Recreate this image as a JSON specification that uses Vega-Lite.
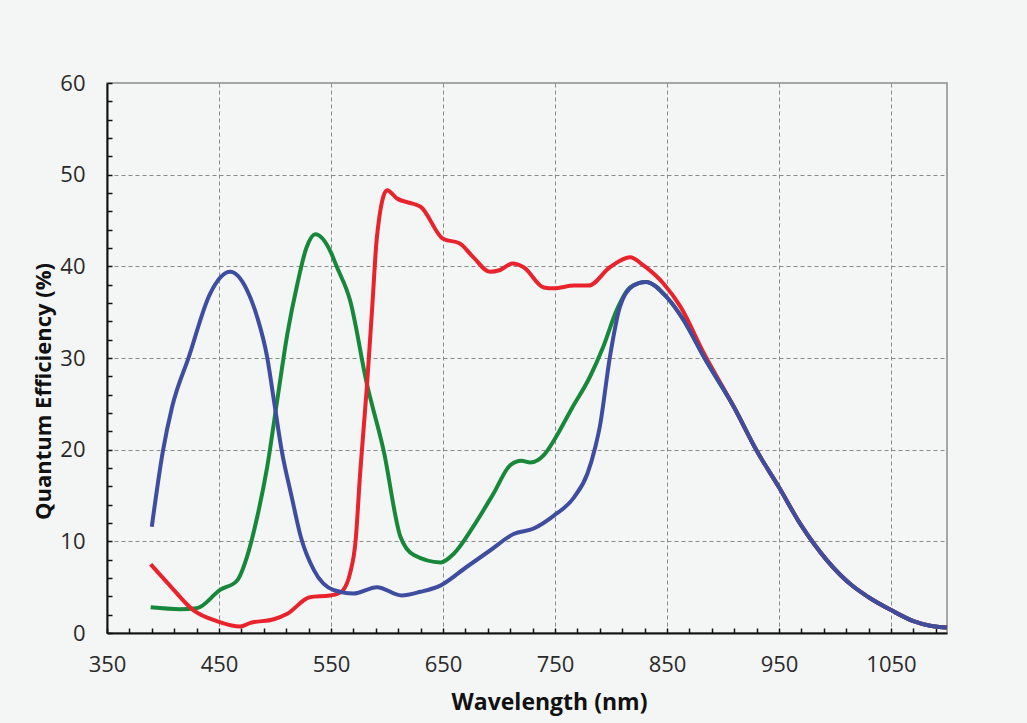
{
  "$schema": "https://vega.github.io/schema/vega-lite/v6.json",
  "width": 840,
  "height": 550,
  "autosize": "none",
  "padding": {"left": 107, "top": 83, "right": 80, "bottom": 90},
  "background": "#f4f6f6",
  "config": {
    "view": {"stroke": "#8c8c8c", "strokeWidth": 1.5, "fill": "#f4f6f6"},
    "font": "Open Sans"
  },
  "data": {
    "values": [
      {"ch": "green", "wl": 389, "qe": 2.8},
      {"ch": "green", "wl": 415, "qe": 2.6},
      {"ch": "green", "wl": 430, "qe": 2.7},
      {"ch": "green", "wl": 451, "qe": 4.7},
      {"ch": "green", "wl": 466, "qe": 5.7},
      {"ch": "green", "wl": 475, "qe": 8.3},
      {"ch": "green", "wl": 484, "qe": 12.6},
      {"ch": "green", "wl": 493, "qe": 18.1},
      {"ch": "green", "wl": 502, "qe": 25.4},
      {"ch": "green", "wl": 511, "qe": 32.6},
      {"ch": "green", "wl": 520, "qe": 38.1},
      {"ch": "green", "wl": 528, "qe": 42.0},
      {"ch": "green", "wl": 536, "qe": 43.5},
      {"ch": "green", "wl": 550, "qe": 41.5},
      {"ch": "green", "wl": 555, "qe": 40.0},
      {"ch": "green", "wl": 567, "qe": 36.3},
      {"ch": "green", "wl": 582, "qe": 27.2},
      {"ch": "green", "wl": 597, "qe": 19.9},
      {"ch": "green", "wl": 612, "qe": 10.5},
      {"ch": "green", "wl": 624, "qe": 8.5},
      {"ch": "green", "wl": 648, "qe": 7.7},
      {"ch": "green", "wl": 660, "qe": 8.7},
      {"ch": "green", "wl": 677, "qe": 11.6},
      {"ch": "green", "wl": 695, "qe": 15.2},
      {"ch": "green", "wl": 710, "qe": 18.3},
      {"ch": "green", "wl": 720, "qe": 18.8},
      {"ch": "green", "wl": 728, "qe": 18.6},
      {"ch": "green", "wl": 740, "qe": 19.4},
      {"ch": "green", "wl": 749, "qe": 21.0},
      {"ch": "green", "wl": 765, "qe": 24.5},
      {"ch": "green", "wl": 781, "qe": 27.9},
      {"ch": "green", "wl": 793, "qe": 31.2},
      {"ch": "green", "wl": 805, "qe": 35.2},
      {"ch": "green", "wl": 817, "qe": 37.7},
      {"ch": "green", "wl": 831, "qe": 38.3},
      {"ch": "green", "wl": 850, "qe": 36.6},
      {"ch": "green", "wl": 865, "qe": 34.1},
      {"ch": "green", "wl": 883, "qe": 30.1},
      {"ch": "green", "wl": 910, "qe": 24.6},
      {"ch": "green", "wl": 930, "qe": 19.9},
      {"ch": "green", "wl": 950, "qe": 15.9},
      {"ch": "green", "wl": 969, "qe": 11.9},
      {"ch": "green", "wl": 993, "qe": 7.9},
      {"ch": "green", "wl": 1015, "qe": 5.2},
      {"ch": "green", "wl": 1030, "qe": 3.9},
      {"ch": "green", "wl": 1050, "qe": 2.5},
      {"ch": "green", "wl": 1070, "qe": 1.3},
      {"ch": "green", "wl": 1085, "qe": 0.8},
      {"ch": "green", "wl": 1100, "qe": 0.6},

      {"ch": "red", "wl": 389, "qe": 7.5},
      {"ch": "red", "wl": 406, "qe": 5.2},
      {"ch": "red", "wl": 427, "qe": 2.5},
      {"ch": "red", "wl": 448, "qe": 1.3},
      {"ch": "red", "wl": 469, "qe": 0.7},
      {"ch": "red", "wl": 478, "qe": 1.1},
      {"ch": "red", "wl": 499, "qe": 1.5},
      {"ch": "red", "wl": 511, "qe": 2.1},
      {"ch": "red", "wl": 531, "qe": 3.9},
      {"ch": "red", "wl": 549, "qe": 4.1},
      {"ch": "red", "wl": 556, "qe": 4.3},
      {"ch": "red", "wl": 561, "qe": 4.7},
      {"ch": "red", "wl": 567, "qe": 6.5},
      {"ch": "red", "wl": 572, "qe": 10.1},
      {"ch": "red", "wl": 576, "qe": 17.4},
      {"ch": "red", "wl": 582, "qe": 26.8},
      {"ch": "red", "wl": 587, "qe": 35.9},
      {"ch": "red", "wl": 591, "qe": 43.2},
      {"ch": "red", "wl": 600, "qe": 48.3},
      {"ch": "red", "wl": 609, "qe": 47.4},
      {"ch": "red", "wl": 624, "qe": 46.8},
      {"ch": "red", "wl": 630, "qe": 46.5},
      {"ch": "red", "wl": 650, "qe": 43.0},
      {"ch": "red", "wl": 665, "qe": 42.5},
      {"ch": "red", "wl": 677, "qe": 41.0},
      {"ch": "red", "wl": 692, "qe": 39.4},
      {"ch": "red", "wl": 701, "qe": 39.6},
      {"ch": "red", "wl": 712, "qe": 40.3},
      {"ch": "red", "wl": 722, "qe": 39.9},
      {"ch": "red", "wl": 740, "qe": 37.7},
      {"ch": "red", "wl": 749, "qe": 37.6},
      {"ch": "red", "wl": 767, "qe": 37.9},
      {"ch": "red", "wl": 780, "qe": 37.9},
      {"ch": "red", "wl": 799, "qe": 39.9},
      {"ch": "red", "wl": 817, "qe": 41.0},
      {"ch": "red", "wl": 829, "qe": 40.1},
      {"ch": "red", "wl": 847, "qe": 38.1},
      {"ch": "red", "wl": 862, "qe": 35.6},
      {"ch": "red", "wl": 883, "qe": 30.5},
      {"ch": "red", "wl": 910, "qe": 24.6},
      {"ch": "red", "wl": 930, "qe": 19.9},
      {"ch": "red", "wl": 950, "qe": 15.9},
      {"ch": "red", "wl": 969, "qe": 11.9},
      {"ch": "red", "wl": 993, "qe": 7.9},
      {"ch": "red", "wl": 1015, "qe": 5.2},
      {"ch": "red", "wl": 1030, "qe": 3.9},
      {"ch": "red", "wl": 1050, "qe": 2.5},
      {"ch": "red", "wl": 1070, "qe": 1.3},
      {"ch": "red", "wl": 1085, "qe": 0.8},
      {"ch": "red", "wl": 1100, "qe": 0.6},

      {"ch": "blue", "wl": 390, "qe": 11.6},
      {"ch": "blue", "wl": 400, "qe": 19.9},
      {"ch": "blue", "wl": 408, "qe": 24.6},
      {"ch": "blue", "wl": 423, "qe": 30.1},
      {"ch": "blue", "wl": 442, "qe": 37.0},
      {"ch": "blue", "wl": 460, "qe": 39.4},
      {"ch": "blue", "wl": 475, "qe": 37.4},
      {"ch": "blue", "wl": 484, "qe": 34.5},
      {"ch": "blue", "wl": 493, "qe": 30.1},
      {"ch": "blue", "wl": 499, "qe": 25.4},
      {"ch": "blue", "wl": 506, "qe": 19.9},
      {"ch": "blue", "wl": 515, "qe": 14.8},
      {"ch": "blue", "wl": 523, "qe": 10.5},
      {"ch": "blue", "wl": 535, "qe": 6.8},
      {"ch": "blue", "wl": 552, "qe": 4.7},
      {"ch": "blue", "wl": 570, "qe": 4.3},
      {"ch": "blue", "wl": 591, "qe": 5.0},
      {"ch": "blue", "wl": 613, "qe": 4.1},
      {"ch": "blue", "wl": 630, "qe": 4.5},
      {"ch": "blue", "wl": 648, "qe": 5.2},
      {"ch": "blue", "wl": 671, "qe": 7.2},
      {"ch": "blue", "wl": 692, "qe": 9.0},
      {"ch": "blue", "wl": 713, "qe": 10.8},
      {"ch": "blue", "wl": 731, "qe": 11.4},
      {"ch": "blue", "wl": 749, "qe": 12.8},
      {"ch": "blue", "wl": 767, "qe": 14.8},
      {"ch": "blue", "wl": 779, "qe": 17.4},
      {"ch": "blue", "wl": 786, "qe": 20.3},
      {"ch": "blue", "wl": 790, "qe": 22.5},
      {"ch": "blue", "wl": 799, "qe": 30.1},
      {"ch": "blue", "wl": 808, "qe": 35.6},
      {"ch": "blue", "wl": 820, "qe": 37.9},
      {"ch": "blue", "wl": 831, "qe": 38.3},
      {"ch": "blue", "wl": 850, "qe": 36.6},
      {"ch": "blue", "wl": 865, "qe": 34.1},
      {"ch": "blue", "wl": 883, "qe": 30.1},
      {"ch": "blue", "wl": 910, "qe": 24.6},
      {"ch": "blue", "wl": 930, "qe": 19.9},
      {"ch": "blue", "wl": 950, "qe": 15.9},
      {"ch": "blue", "wl": 969, "qe": 11.9},
      {"ch": "blue", "wl": 993, "qe": 7.9},
      {"ch": "blue", "wl": 1015, "qe": 5.2},
      {"ch": "blue", "wl": 1030, "qe": 3.9},
      {"ch": "blue", "wl": 1050, "qe": 2.5},
      {"ch": "blue", "wl": 1070, "qe": 1.3},
      {"ch": "blue", "wl": 1085, "qe": 0.8},
      {"ch": "blue", "wl": 1100, "qe": 0.6}
    ]
  },
  "encoding": {
    "x": {
      "field": "wl",
      "type": "quantitative",
      "scale": {"domain": [350, 1100], "nice": false, "zero": false},
      "axis": {
        "title": "Wavelength (nm)",
        "values": [350,370,390,410,430,450,470,490,510,530,550,570,590,610,630,650,670,690,710,730,750,770,790,810,830,850,870,890,910,930,950,970,990,1010,1030,1050,1070,1090],
        "format": "d",
        "labelExpr": "(datum.value - 350) % 100 == 0 ? datum.label : ''",
        "labelFont": "Open Sans",
        "labelFontSize": 22,
        "labelColor": "#2a2a2a",
        "labelPadding": 26,
        "labelFlush": false,
        "labelOverlap": false,
        "domainColor": "#111111",
        "domainWidth": 2,
        "ticks": true,
        "tickColor": "#111111",
        "tickSize": -5,
        "tickWidth": 1.5,
        "grid": true,
        "gridColor": "#8a8a8a",
        "gridDash": [4, 3],
        "gridWidth": 1,
        "gridOpacity": {"condition": {"test": "(datum.value - 350) % 100 == 0 && datum.value > 350", "value": 1}, "value": 0},
        "titleFont": "Open Sans",
        "titleFontSize": 23,
        "titleFontWeight": "bold",
        "titleColor": "#111111",
        "titleX": 442,
        "titleY": 76,
        "titleBaseline": "alphabetic"
      }
    },
    "y": {
      "field": "qe",
      "type": "quantitative",
      "scale": {"domain": [0, 60], "nice": false},
      "axis": {
        "title": "Quantum Efficiency (%)",
        "values": [0,2,4,6,8,10,12,14,16,18,20,22,24,26,28,30,32,34,36,38,40,42,44,46,48,50,52,54,56,58,60],
        "labelExpr": "datum.value % 10 == 0 ? datum.label : ''",
        "labelFont": "Open Sans",
        "labelFontSize": 22,
        "labelColor": "#2a2a2a",
        "labelPadding": 27,
        "labelFlush": false,
        "labelOverlap": false,
        "domainColor": "#111111",
        "domainWidth": 2,
        "ticks": true,
        "tickColor": "#111111",
        "tickSize": -5,
        "tickWidth": 1.5,
        "grid": true,
        "gridColor": "#8a8a8a",
        "gridDash": [4, 3],
        "gridWidth": 1,
        "gridOpacity": {"condition": {"test": "datum.value % 10 == 0 && datum.value > 0 && datum.value < 60", "value": 1}, "value": 0},
        "titleFont": "Open Sans",
        "titleFontSize": 22,
        "titleFontWeight": "bold",
        "titleColor": "#111111",
        "titleX": -57,
        "titleY": 308,
        "titleAngle": 270,
        "titleBaseline": "alphabetic"
      }
    }
  },
  "layer": [
    {
      "transform": [{"filter": "datum.ch == 'green'"}],
      "mark": {"type": "line", "interpolate": "monotone", "color": "#17883a", "strokeWidth": 4}
    },
    {
      "transform": [{"filter": "datum.ch == 'red'"}],
      "mark": {"type": "line", "interpolate": "monotone", "color": "#e8232b", "strokeWidth": 4}
    },
    {
      "transform": [{"filter": "datum.ch == 'blue'"}],
      "mark": {"type": "line", "interpolate": "monotone", "color": "#3e4da0", "strokeWidth": 4}
    }
  ]
}
